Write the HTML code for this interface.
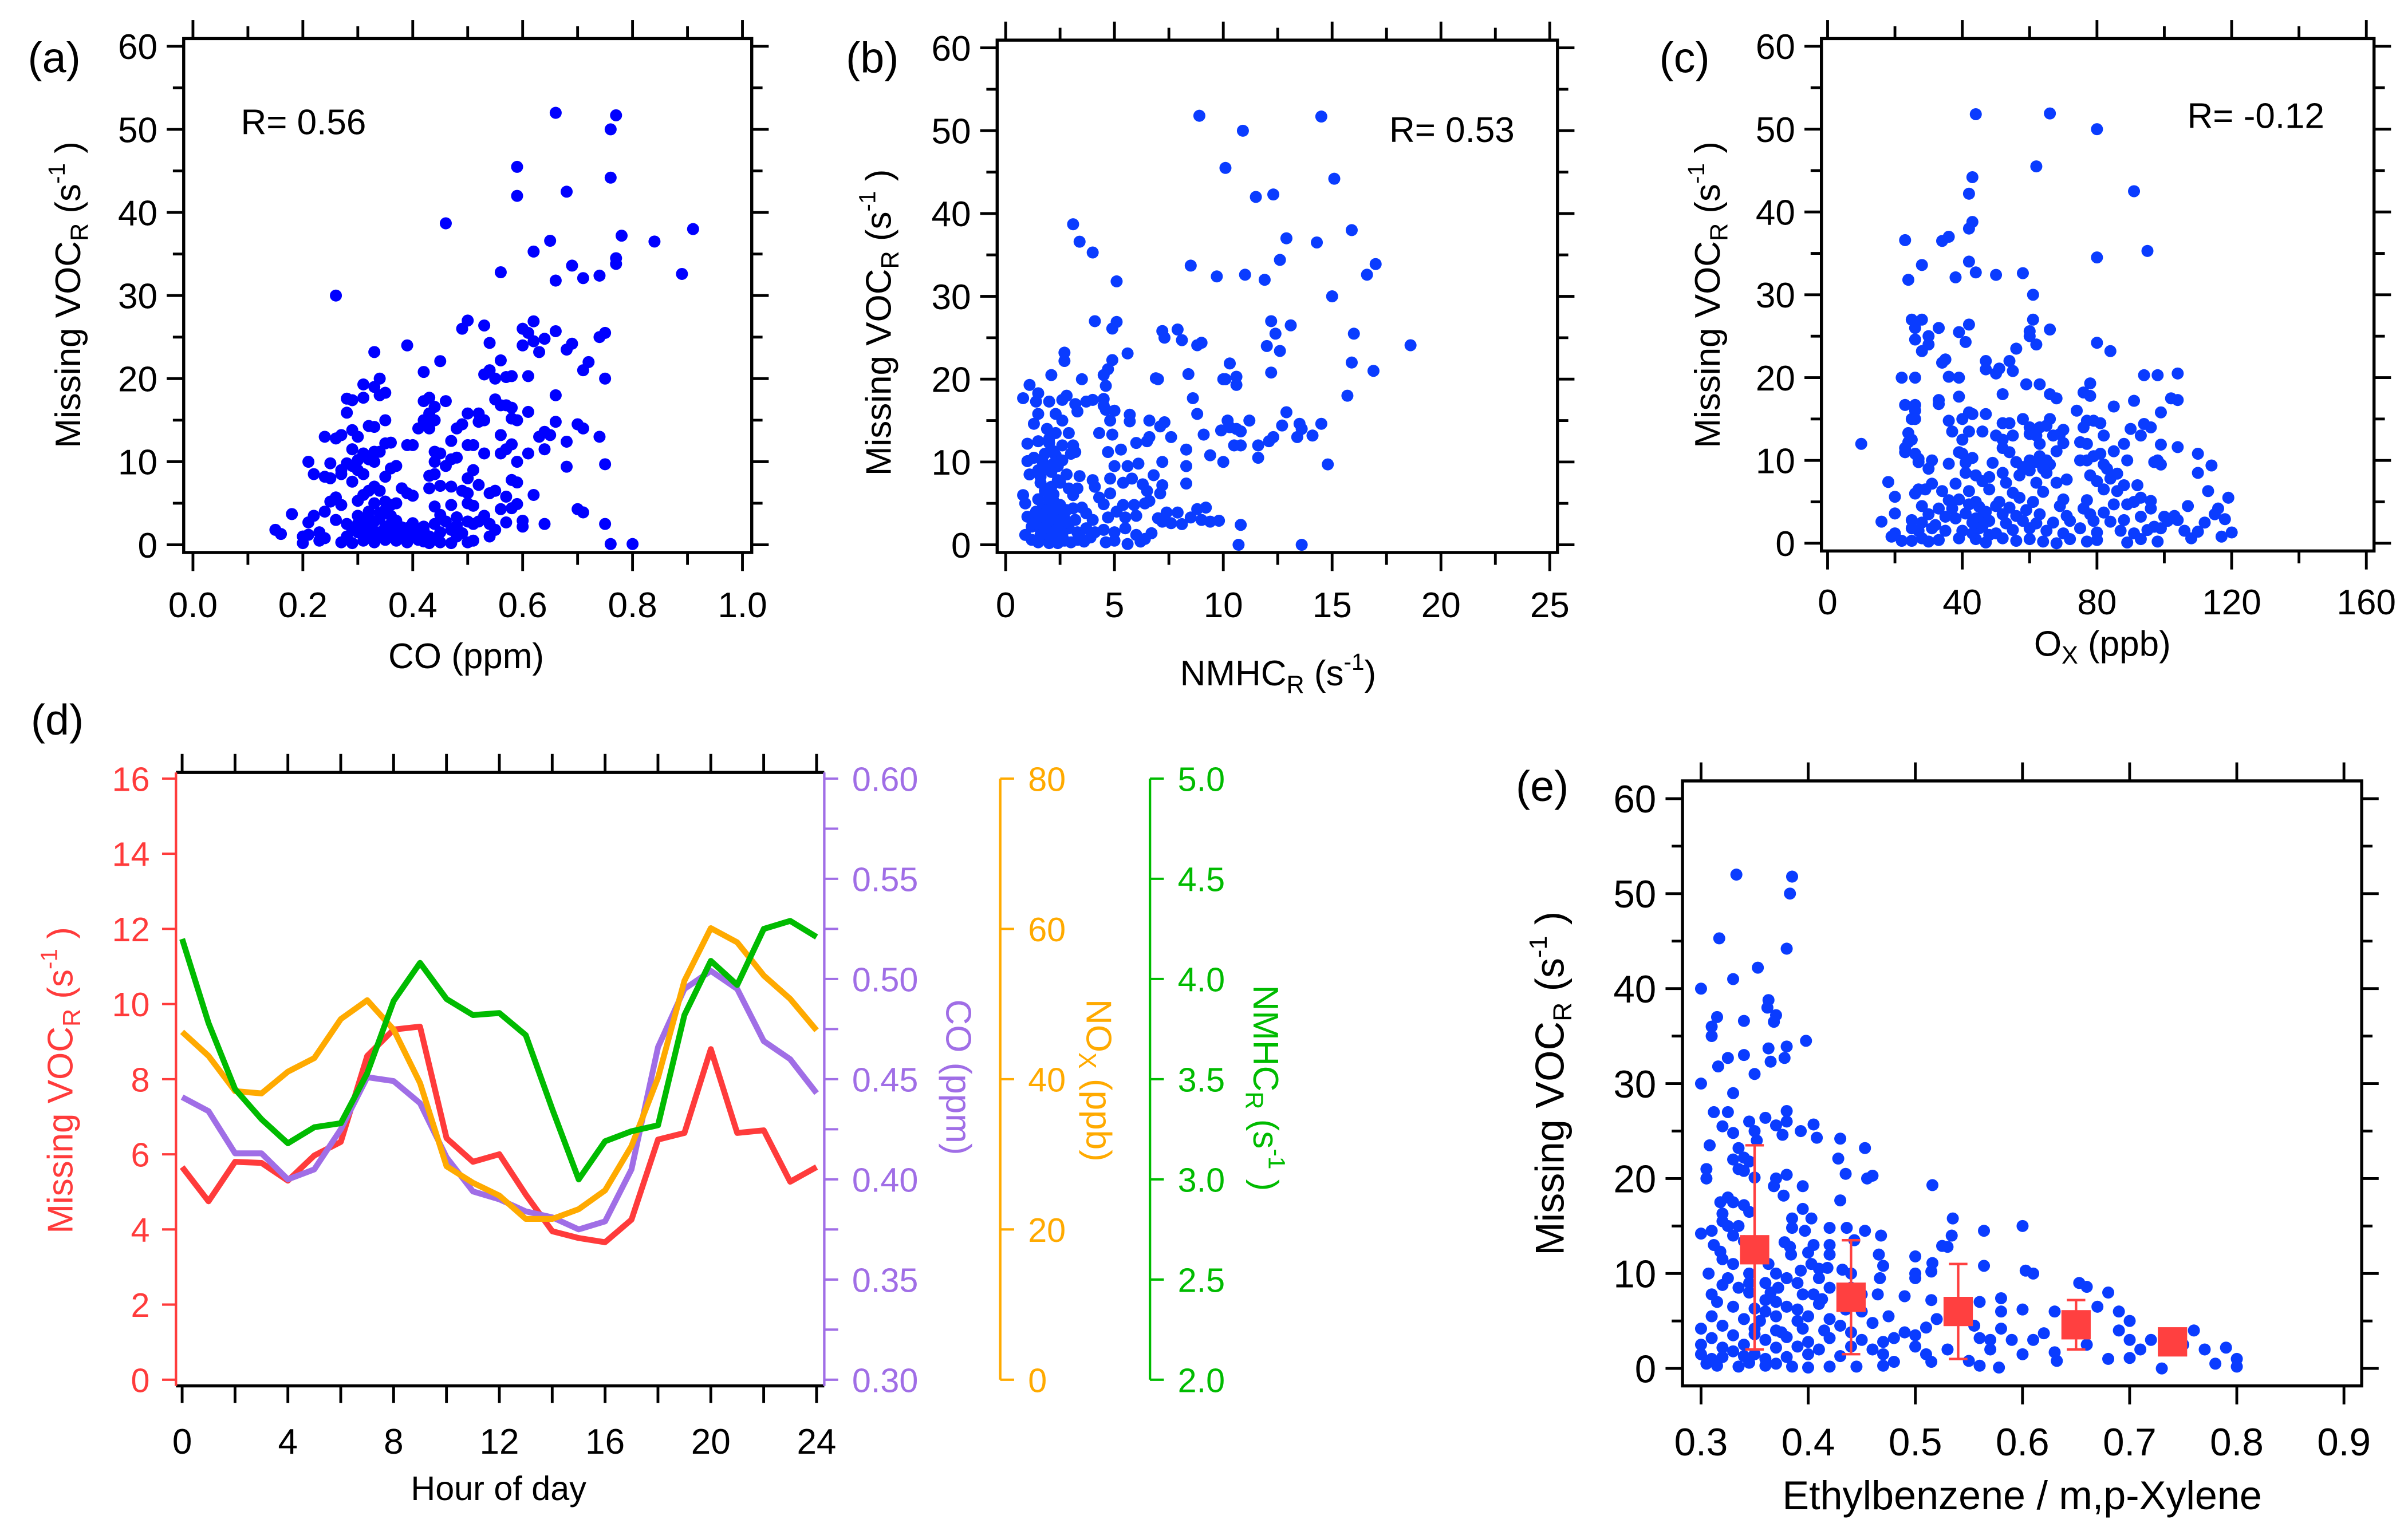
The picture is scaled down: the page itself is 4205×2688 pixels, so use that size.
<!DOCTYPE html>
<html><head><meta charset="utf-8"><title>Missing VOC reactivity figure</title>
<style>
html,body{margin:0;padding:0;background:#fff;}
svg{display:block;font-family:"Liberation Sans",Arial,sans-serif;}
</style></head>
<body>
<svg id="fig" width="4205" height="2688" viewBox="0 0 1560 997.2">
<rect x="0" y="0" width="1560" height="997.2" fill="#fff"/>
<text x="18" y="47" font-size="28">(a)</text>
<text x="548" y="47" font-size="28">(b)</text>
<text x="1075" y="47" font-size="28">(c)</text>
<text x="20" y="476" font-size="28">(d)</text>
<text x="982" y="519" font-size="28">(e)</text>
<text x="156" y="87" font-size="23">R= 0.56</text>
<text x="900" y="92" font-size="23">R= 0.53</text>
<text x="1417" y="83" font-size="23">R= -0.12</text>
<text x="302" y="433" font-size="23" text-anchor="middle">CO (ppm)</text>
<text x="828" y="444" font-size="23" text-anchor="middle">NMHC<tspan font-size="16" dy="5">R</tspan><tspan dy="-5" font-size="23"> (s</tspan><tspan font-size="15" dy="-10">-1</tspan><tspan font-size="23" dy="10">)</tspan></text>
<text x="1362" y="425" font-size="23" text-anchor="middle">O<tspan font-size="16" dy="5">X</tspan><tspan dy="-5" font-size="23">  (ppb)</tspan></text>
<text x="323" y="972" font-size="22" text-anchor="middle">Hour of day</text>
<text x="1310" y="978" font-size="26" text-anchor="middle">Ethylbenzene / m,p-Xylene</text>
<text transform="translate(52,191) rotate(-90)" font-size="23" text-anchor="middle">Missing VOC<tspan font-size="16" dy="5">R</tspan><tspan dy="-5" font-size="23">  (s</tspan><tspan font-size="15" dy="-10">-1</tspan><tspan font-size="23" dy="10"> )</tspan></text>
<text transform="translate(577,209) rotate(-90)" font-size="23" text-anchor="middle">Missing VOC<tspan font-size="16" dy="5">R</tspan><tspan dy="-5" font-size="23">  (s</tspan><tspan font-size="15" dy="-10">-1</tspan><tspan font-size="23" dy="10"> )</tspan></text>
<text transform="translate(1114,191) rotate(-90)" font-size="23" text-anchor="middle">Missing VOC<tspan font-size="16" dy="5">R</tspan><tspan dy="-5" font-size="23">  (s</tspan><tspan font-size="15" dy="-10">-1</tspan><tspan font-size="23" dy="10"> )</tspan></text>
<text transform="translate(1013,702) rotate(-90)" font-size="26" text-anchor="middle">Missing VOC<tspan font-size="17" dy="5">R</tspan><tspan dy="-5" font-size="26">  (s</tspan><tspan font-size="16" dy="-11">-1</tspan><tspan font-size="26" dy="11"> )</tspan></text>
<text transform="translate(47,700) rotate(-90)" font-size="23" fill="#ff3b3b" text-anchor="middle">Missing VOC<tspan font-size="16" dy="5">R</tspan><tspan dy="-5" font-size="23">  (s</tspan><tspan font-size="15" dy="-10">-1</tspan><tspan font-size="23" dy="10"> )</tspan></text>
<text transform="translate(613,698) rotate(90)" font-size="23" fill="#a06ee6" text-anchor="middle">CO  (ppm)</text>
<text transform="translate(704,700) rotate(90)" font-size="23" fill="#ffaa00" text-anchor="middle">NO<tspan font-size="16" dy="5">X</tspan><tspan dy="-5" font-size="23">  (ppb)</tspan></text>
<text transform="translate(812,705) rotate(90)" font-size="23" fill="#00bb00" text-anchor="middle">NMHC<tspan font-size="16" dy="5">R</tspan><tspan dy="-5" font-size="23">  (s</tspan><tspan font-size="15" dy="-10">-1</tspan><tspan font-size="23" dy="10"> )</tspan></text>
</svg>
<script>
const aPoints = [[0.66,52],[0.77,51.7],[0.76,50],[0.59,45.5],[0.76,44.2],[0.68,42.5],[0.59,42],[0.46,38.7],[0.91,38],[0.78,37.2],[0.84,36.5],[0.65,36.6],[0.62,35.3],[0.77,34.5],[0.77,33.8],[0.69,33.6],[0.56,32.8],[0.89,32.6],[0.74,32.4],[0.71,32.1],[0.66,31.8],[0.26,30],[0.62,26.9],[0.50,27],[0.53,26.4],[0.49,26],[0.60,26],[0.66,25.7],[0.75,25.5],[0.74,25],[0.61,25.5],[0.64,24.8],[0.62,24.5],[0.69,24.2],[0.54,24.3],[0.39,24],[0.33,23.2],[0.63,23.2],[0.68,23.5],[0.60,24],[0.45,22.1],[0.56,22.2],[0.72,22],[0.42,20.8],[0.54,21],[0.71,21],[0.53,20.5],[0.55,20],[0.57,20.2],[0.58,20.3],[0.61,20.3],[0.75,20],[0.34,20],[0.31,19.3],[0.33,19],[0.35,18.3],[0.34,18],[0.66,18],[0.28,17.6],[0.29,17.4],[0.31,17.7],[0.46,17.3],[0.43,17.7],[0.42,17.3],[0.55,17.5],[0.57,16.8],[0.56,16.8],[0.58,16.5],[0.44,16.6],[0.28,15.9],[0.43,15.8],[0.50,15.8],[0.52,15.8],[0.61,16],[0.66,14.8],[0.58,15.2],[0.59,15],[0.35,15],[0.44,15],[0.52,14.8],[0.53,15],[0.42,15],[0.32,14.3],[0.33,14.2],[0.41,14],[0.43,14],[0.49,14.5],[0.48,14],[0.70,14.5],[0.71,14],[0.64,13.6],[0.65,13.2],[0.63,13],[0.74,13],[0.29,13.8],[0.27,13.2],[0.24,13],[0.26,12.8],[0.30,13],[0.36,12.3],[0.35,12.2],[0.39,12],[0.40,12],[0.47,12.5],[0.50,12],[0.51,12],[0.56,13.2],[0.57,11.5],[0.58,12.1],[0.53,11],[0.56,11],[0.61,11],[0.64,11.5],[0.68,12.4],[0.29,11.5],[0.31,11],[0.33,11.2],[0.34,11.2],[0.45,11],[0.44,11.2],[0.30,10.2],[0.32,10.3],[0.28,9.8],[0.25,9.8],[0.21,10],[0.33,10],[0.44,10],[0.47,10.3],[0.48,10.5],[0.59,10],[0.27,9],[0.29,9.5],[0.30,9],[0.37,9.5],[0.36,9.2],[0.46,9.5],[0.51,9],[0.68,9.4],[0.75,9.7],[0.22,8.5],[0.24,8.2],[0.25,8],[0.27,8.5],[0.31,8.5],[0.29,7.6],[0.35,8.2],[0.43,8.3],[0.44,8.5],[0.50,8],[0.52,7.2],[0.58,7.8],[0.59,7.5],[0.33,7],[0.32,6.5],[0.34,6.5],[0.38,6.8],[0.39,6.2],[0.43,6.8],[0.45,7.1],[0.47,7],[0.49,6.5],[0.50,6.2],[0.54,6.2],[0.55,6.5],[0.57,5.8],[0.62,6],[0.40,5.9],[0.26,5.7],[0.25,5.2],[0.27,4.8],[0.30,5.3],[0.33,5],[0.35,5.2],[0.36,4.8],[0.37,5],[0.44,4.6],[0.47,4.8],[0.50,5],[0.51,4.7],[0.59,4.9],[0.70,4.3],[0.71,3.9],[0.18,3.7],[0.22,3.5],[0.24,4],[0.32,4],[0.34,3.8],[0.45,3.6],[0.48,3.3],[0.53,3.5],[0.56,4.3],[0.58,4.4],[0.15,1.8],[0.16,1.3],[0.21,2.7],[0.23,1.5],[0.26,3],[0.28,2.5],[0.30,2.5],[0.31,3],[0.32,2],[0.33,2.8],[0.34,1.5],[0.35,2.2],[0.36,2.5],[0.37,1.8],[0.38,1.2],[0.39,2],[0.40,2.6],[0.41,1.5],[0.42,2.2],[0.43,1],[0.44,2.5],[0.45,1.5],[0.46,2.8],[0.47,1.8],[0.48,2.3],[0.49,1.4],[0.50,2.8],[0.51,2.5],[0.52,2.8],[0.54,2.5],[0.55,1.8],[0.57,2.7],[0.60,2.2],[0.60,2.9],[0.64,2.5],[0.75,2.5],[0.20,0.2],[0.20,1],[0.21,1.2],[0.23,0.5],[0.24,0.8],[0.27,0.3],[0.28,1],[0.29,0.2],[0.30,1.5],[0.31,0.5],[0.32,1],[0.33,0.3],[0.34,0.9],[0.35,0.6],[0.36,1.2],[0.37,0.5],[0.38,0.8],[0.39,0.3],[0.40,1],[0.41,0.6],[0.42,0.4],[0.43,0.2],[0.44,0.8],[0.45,0.3],[0.47,0.2],[0.48,1],[0.50,0.3],[0.51,0.5],[0.54,1],[0.76,0.1],[0.80,0.1],[0.29,1.8],[0.31,1.8],[0.33,1.6],[0.35,1.4],[0.37,2.9],[0.38,2.1],[0.40,1.8],[0.42,1.7],[0.30,3.5],[0.32,3.2],[0.34,3.2],[0.36,3.5],[0.31,6],[0.35,4.2]];

const bPoints = [[8.9,51.8],[14.5,51.7],[10.9,50],[10.1,45.5],[15.1,44.2],[11.5,42],[12.3,42.3],[3.1,38.7],[3.4,36.6],[4,35.3],[15.9,38],[12.9,37],[14.3,36.5],[12.6,34.4],[8.5,33.7],[17,33.9],[16.6,32.6],[9.7,32.4],[11,32.6],[11.9,32],[5.1,31.8],[15,30],[4.1,27],[4.9,26.1],[5.1,26.9],[7.2,25.8],[7.3,25],[7.9,26],[8.1,24.7],[8.8,24.1],[9,24.4],[12.2,27],[12.4,25.5],[13.1,26.5],[12,24],[12.6,23.4],[16,25.5],[18.6,24.1],[2.7,23.2],[2.7,22.2],[4.9,22.3],[5.6,23.1],[10.3,21.9],[15.9,22],[16.9,21],[12.2,20.8],[2.1,20.5],[3.5,20],[4.5,20.5],[4.7,21.2],[6.9,20.1],[7,20],[8.4,20.6],[10,20],[10.1,20],[10.6,20.3],[10.6,19.3],[1.1,19.3],[4.6,19.2],[0.8,17.7],[1.5,18.3],[1.4,17.3],[2,17.3],[2.6,17.5],[2.8,18],[3.2,17],[3.7,17.3],[4,17.5],[4.5,17.6],[4.5,16.8],[4.6,16.3],[8.6,17.7],[15.7,18],[1.5,15.8],[2.3,15.8],[3.3,16.1],[5,16.2],[5.7,15.7],[8.8,15.8],[12.9,16],[1.3,14.6],[1.9,14],[2.6,15],[4.8,15],[5.7,14.9],[6.6,15],[7.3,14.8],[7.1,14.3],[10.2,15],[11.2,15],[12.7,14.4],[13.5,14.6],[14.5,14.6],[9.9,13.8],[10.3,14.2],[10.6,14],[10.8,13.7],[13.6,14],[2.3,13.5],[2.9,13.5],[4.3,13.5],[4.9,13.3],[7.6,13],[9.1,13.3],[13.4,13],[14.1,13.2],[12.3,13],[12.1,12.5],[1,12.2],[1.5,12.5],[2,12.3],[2.6,12],[3.1,12],[6,12.3],[6.5,12.5],[6.6,13],[10.5,12],[10.8,12],[11.6,12],[3.2,11.2],[4.7,11.2],[5.3,11.5],[8.3,11.5],[9.4,10.8],[11.6,10.5],[1,10.1],[1.3,10.5],[1.7,10],[2.3,10.8],[2.6,10.2],[3,11],[5,9.5],[5.6,9.5],[6.1,9.8],[7.2,10],[8.3,9.5],[10,10],[14.8,9.7],[1.1,8.5],[1.6,8.2],[2.1,8.8],[2.8,8.5],[3.4,8.3],[4,7.8],[4.8,8],[5.4,7.5],[5.8,8],[6.3,7.3],[6.8,8.4],[8.3,7.4],[1.6,7.5],[2.5,7.5],[3.3,6.8],[4.1,7],[6.5,6.5],[7.2,7.2],[7.1,6.2],[6.6,5.3],[0.8,6],[1.5,5.5],[2.2,6.1],[3.1,6],[4.3,5.7],[4.8,6.2],[0.9,5],[1.7,4.5],[2.5,4.8],[3.5,4.5],[4.5,4.9],[5.4,4.8],[5.9,4.8],[6.4,5],[3.7,3.8],[5.1,4],[6,3.5],[7.4,3.9],[7.9,3.9],[8.8,4.3],[9.2,4.5],[1,3.4],[1.4,3],[2,3.5],[2.7,3.2],[3.2,3],[4,3],[4.7,3.3],[5.5,3.3],[7.2,2.8],[7.6,2.6],[8.1,2.5],[8.5,3.3],[9,3],[9.4,2.8],[9.8,2.9],[7,3.2],[0.9,1.2],[1.2,2.2],[1.6,1.8],[1.9,2.5],[2.1,1.5],[2.4,2.2],[2.6,1.2],[2.9,2],[3.3,1.5],[3.7,2],[4.1,1.5],[4.5,1.8],[5,1.5],[5.5,2],[6,1.2],[6.7,1.4],[10.8,2.4],[1.2,0.6],[1.5,0.3],[1.8,0.8],[2,0.2],[2.2,0.6],[2.4,0.2],[2.7,0.5],[3,0.3],[3.3,0.6],[3.6,0.4],[4.6,0.3],[5,0.5],[5.6,0.1],[6.2,0.4],[6.4,0.7],[10.7,0],[13.6,0],[1.4,4],[1.8,6.5],[2.2,5.3],[2.5,3.8],[2.8,4.2],[1.3,2.6],[1.7,3.6],[2.3,2.8],[2.9,2.6],[3.1,4.4],[1.9,9.3],[2.4,9.5],[2.2,11.3],[1.8,11],[1.5,9],[2.1,7],[2.9,6.8],[3.4,1],[3.9,0.9],[2.6,3.6],[1.9,4.2],[1.6,1.2],[2.0,5.5],[2.3,4.3],[2.1,3.1],[1.8,2.1],[2.5,1.6],[2.2,9.8],[2.0,12.8],[2.4,7.8]];

const cPoints = [[44,51.8],[66,51.9],[80,50],[62,45.5],[43,44.2],[42,42.2],[91,42.5],[43,38.8],[42,38],[23,36.6],[34,36.5],[36,37],[95,35.3],[80,34.5],[28,33.6],[42,34],[44,32.7],[38,32.1],[50,32.4],[58,32.6],[24,31.8],[61,30],[25,27],[28,27],[26,26],[33,26],[42,26.4],[61,27],[60,25.6],[60,25],[66,25.8],[39,25.5],[41,24.3],[26,24.6],[30,25],[30,24],[28,23.2],[62,24],[80,24.2],[84,23.2],[56,23.5],[34,21.8],[35,22.2],[47,22],[47,21],[50,20.5],[51,21.1],[54,22],[55,20.8],[22,20],[26,20],[36,20.1],[39,20],[94,20.3],[98,20.3],[104,20.5],[59,19.2],[63,19.2],[78,19.3],[76,18.2],[78,17.8],[52,18],[66,18],[68,17.5],[39,17.7],[91,17.2],[102,17.5],[104,17.3],[33,17.3],[33,16.8],[23,16.7],[26,16.7],[26,16],[85,16.5],[99,15.8],[74,16],[42,15.8],[43,15.6],[47,15.6],[25,15],[26,15],[36,14.8],[40,15],[52,14.5],[54,14.5],[58,15],[66,15],[77,14.8],[79,14.8],[81,14.5],[94,14.4],[60,14],[63,14],[65,14.2],[76,14],[70,13.7],[93,13],[90,13.8],[96,14],[24,13.3],[37,13.5],[42,13.5],[46,13.5],[50,13],[55,13],[60,13.2],[62,13],[67,13],[69,13.2],[82,13],[24,12.2],[25,12.5],[40,12.5],[52,12.5],[63,12],[70,12.1],[77,12],[75,12.2],[88,12],[10,12],[23,11],[23,11.5],[52,11.5],[54,11],[68,11.1],[85,11.1],[99,11.9],[104,11.6],[110,10.8],[26,10.8],[27,10.2],[39,11],[40,10.8],[43,10.3],[60,10],[63,10.5],[65,10],[75,10],[77,10],[79,10.5],[81,10.8],[89,10],[98,10],[27,9.8],[31,10],[36,9.6],[41,9.7],[49,9.7],[56,9.8],[58,9.2],[62,9.8],[64,9],[66,9.5],[82,9.5],[83,9],[97,9.8],[99,9.5],[114,9.4],[30,9],[41,8.5],[44,8.2],[48,8],[52,8.5],[57,8.2],[60,8.8],[65,8.5],[78,8.2],[84,7.8],[86,8.4],[110,8.5],[18,7.4],[31,7.2],[38,7.2],[46,7.5],[53,7.3],[62,7.3],[68,7.3],[71,7.7],[80,7.5],[92,7],[26,6],[29,6.5],[34,6.3],[42,6.3],[48,6.5],[55,6.1],[64,6.2],[82,6.5],[86,6.3],[88,7],[113,6.3],[20,5.6],[27,6.5],[36,5.2],[39,5.3],[44,5],[51,5],[57,5.5],[61,5],[70,5.3],[77,5.2],[91,5],[93,5.5],[96,5.1],[119,5.5],[28,4.5],[33,4.2],[37,4.2],[45,4.4],[50,4.5],[54,4.3],[59,4],[69,4.5],[76,4.2],[85,4.7],[89,4.7],[96,4.2],[107,4.5],[116,4.2],[20,3.6],[30,3.5],[35,3.2],[41,3.6],[46,3.2],[52,3.5],[56,3.3],[63,3.5],[71,3.3],[78,3.5],[82,3.7],[93,3.2],[100,3.2],[103,3.3],[115,3.5],[16,2.6],[25,2.8],[28,2.5],[32,2.2],[38,3],[43,2.5],[48,2.7],[53,2.4],[58,2.7],[62,2.4],[67,2.5],[72,2.7],[79,2.7],[84,2.6],[88,2.8],[97,2],[101,2.7],[104,2.8],[112,2.5],[118,2.9],[20,1.2],[25,1.8],[27,1.5],[31,1.8],[35,1.5],[40,1.5],[45,1.8],[50,1.2],[55,1.6],[60,1.8],[65,1.5],[70,1.2],[75,1.8],[80,1.3],[87,1.5],[91,1.2],[95,1.6],[99,1.8],[106,1.5],[110,1.4],[120,1.3],[19,0.8],[22,0.3],[25,0.3],[28,0.6],[30,0.2],[33,0.4],[39,0.6],[44,0.5],[47,0.1],[52,0.6],[56,0.3],[60,0.5],[64,0.2],[68,0],[72,0.5],[77,0.2],[80,0.4],[89,0.1],[93,0.5],[98,0.2],[108,0.6],[117,0.8],[42,4.7],[44,3],[46,2],[48,1],[43,1.2],[47,3.8]];

const ePoints = [[0.333,52],[0.385,51.8],[0.383,50],[0.317,45.3],[0.38,44.2],[0.353,42.2],[0.3,40],[0.33,41],[0.363,38.8],[0.362,38],[0.37,37.2],[0.368,36.5],[0.315,37],[0.31,36],[0.31,35],[0.34,36.6],[0.398,34.5],[0.38,33.9],[0.363,33.7],[0.34,33],[0.325,32.7],[0.365,32.3],[0.378,32.7],[0.316,31.8],[0.35,31],[0.3,30],[0.33,29],[0.312,27],[0.325,27],[0.38,27.1],[0.36,26.4],[0.345,26],[0.38,26],[0.405,25.7],[0.37,25.6],[0.32,25.5],[0.33,24.8],[0.35,25],[0.376,24.6],[0.393,25],[0.408,24.3],[0.352,24],[0.43,24.2],[0.453,23.2],[0.308,23.5],[0.335,23.2],[0.34,22.2],[0.33,22],[0.345,21.8],[0.428,22.1],[0.305,21],[0.335,21],[0.34,20.8],[0.435,20.5],[0.455,20],[0.46,20.3],[0.305,20],[0.35,20.1],[0.37,20],[0.38,20.4],[0.368,19.2],[0.395,19.2],[0.516,19.3],[0.377,18.2],[0.325,18],[0.33,17.5],[0.318,17.5],[0.34,17.2],[0.345,16.5],[0.43,17.7],[0.32,16.3],[0.395,16.8],[0.385,15.8],[0.403,15.8],[0.32,15.5],[0.3,14.2],[0.31,14.5],[0.325,15],[0.335,15],[0.33,14],[0.385,14.8],[0.397,14.5],[0.42,14.8],[0.436,14.8],[0.453,14.5],[0.535,15.8],[0.564,14.5],[0.6,15],[0.312,13],[0.318,12.3],[0.34,13.4],[0.378,13.3],[0.383,12.8],[0.405,13],[0.42,13],[0.443,13.5],[0.468,14],[0.534,14],[0.53,12.8],[0.525,12.9],[0.384,12],[0.4,12.2],[0.42,12],[0.466,12],[0.5,11.8],[0.516,11.1],[0.32,11.5],[0.33,11],[0.363,11],[0.403,11],[0.41,10.5],[0.418,10.6],[0.432,10.4],[0.47,10.8],[0.564,10.8],[0.603,10.3],[0.61,10],[0.5,10],[0.515,10.2],[0.307,10],[0.325,9.5],[0.345,10],[0.37,10],[0.38,9.5],[0.393,10.3],[0.41,9.5],[0.44,10],[0.467,9.5],[0.5,9.5],[0.32,8.8],[0.335,8.5],[0.36,9],[0.372,8.5],[0.39,9],[0.42,8.5],[0.44,8.5],[0.31,7.8],[0.345,8],[0.365,8],[0.395,7.8],[0.405,7.8],[0.413,7.3],[0.45,7.8],[0.465,7.8],[0.49,7.6],[0.515,7.2],[0.56,7],[0.58,7.4],[0.68,8],[0.653,9],[0.66,8.6],[0.315,7],[0.33,6.5],[0.36,6],[0.38,6.5],[0.41,6.8],[0.435,6.2],[0.45,6],[0.475,5.5],[0.52,5.2],[0.58,6],[0.6,6.2],[0.63,6],[0.67,6.5],[0.69,6],[0.31,5.5],[0.34,5.2],[0.37,5.5],[0.39,5],[0.4,5.5],[0.42,5.2],[0.46,4.8],[0.555,4.5],[0.7,5],[0.3,4.2],[0.32,4.5],[0.35,4.2],[0.37,4],[0.395,4.2],[0.415,4],[0.43,4.5],[0.44,3.8],[0.49,3.8],[0.51,4.3],[0.58,4.2],[0.62,3.7],[0.69,4],[0.76,4],[0.31,3.2],[0.33,3.5],[0.36,3],[0.38,3.3],[0.4,2.8],[0.42,3.2],[0.45,3],[0.47,2.8],[0.48,3.2],[0.5,3.5],[0.56,3.2],[0.57,3],[0.59,3],[0.61,3],[0.7,3],[0.72,3],[0.3,2.5],[0.32,2.2],[0.34,2.5],[0.37,2.2],[0.39,2.3],[0.41,2],[0.44,2.3],[0.46,2],[0.5,2.3],[0.53,2],[0.57,2],[0.66,2.5],[0.71,2],[0.75,2.5],[0.77,2],[0.79,2.2],[0.3,1.5],[0.32,1.2],[0.33,1.8],[0.35,1.5],[0.38,1.2],[0.4,1.5],[0.43,1.3],[0.47,1.5],[0.51,1.5],[0.55,0.8],[0.6,1.5],[0.63,1.7],[0.68,1],[0.7,1.1],[0.8,1],[0.305,0.5],[0.315,0.3],[0.335,0.2],[0.345,0.6],[0.36,0.3],[0.37,0.5],[0.385,0.2],[0.4,0.1],[0.42,0.2],[0.445,0.2],[0.47,0.3],[0.48,0.7],[0.515,0.7],[0.56,0.3],[0.578,0.1],[0.632,0.8],[0.73,0],[0.78,0.5],[0.8,0.2],[0.36,1],[0.34,1.3],[0.31,1],[0.35,3.6],[0.355,5],[0.36,7.2],[0.35,6.3],[0.345,9],[0.37,7],[0.375,3.8],[0.39,6.2]];

const eBinX = [0.35, 0.44, 0.54, 0.65, 0.74];
const eBinMean = [12.5, 7.5, 6.0, 4.6, 2.8];
const eBinLow = [2.0, 1.5, 1.0, 2.0, 2.8];
const eBinHigh = [23.5, 13.5, 11.0, 7.2, 2.8];

const hours = [0,1,2,3,4,5,6,7,8,9,10,11,12,13,14,15,16,17,18,19,20,21,22,23,24];
const vocr = [5.66,4.75,5.8,5.77,5.3,5.97,6.33,8.62,9.32,9.4,6.43,5.8,6.0,4.93,3.95,3.77,3.66,4.26,6.39,6.57,8.8,6.57,6.64,5.27,5.66];
const coPpm = [0.441,0.434,0.413,0.413,0.400,0.405,0.425,0.451,0.449,0.438,0.411,0.394,0.390,0.384,0.381,0.375,0.379,0.405,0.466,0.495,0.504,0.495,0.469,0.460,0.443];
const noxPpb = [46.3,43.1,38.4,38.1,41.0,42.8,48.0,50.5,46.6,39.5,28.4,26.2,24.5,21.4,21.4,22.7,25.2,31.1,40.2,53.1,60.1,58.2,53.8,50.7,46.5];
const nmhcR = [4.20,3.78,3.45,3.30,3.18,3.26,3.28,3.53,3.89,4.08,3.90,3.82,3.83,3.72,3.35,3.0,3.19,3.24,3.27,3.82,4.09,3.97,4.25,4.29,4.21];

const aXTicks = ["0.0","0.2","0.4","0.6","0.8","1.0"];
const bXTicks = ["0","5","10","15","20","25"];
const cXTicks = ["0","40","80","120","160"];
const eXTicks = ["0.3","0.4","0.5","0.6","0.7","0.8","0.9"];
const vocYTicks = ["0","10","20","30","40","50","60"];
const dHourTicks = ["0","4","8","12","16","20","24"];
const dVocTicks = ["0","2","4","6","8","10","12","14","16"];
const dCoTicks = ["0.30","0.35","0.40","0.45","0.50","0.55","0.60"];
const dNoxTicks = ["0","20","40","60","80"];
const dNmhcTicks = ["2.0","2.5","3.0","3.5","4.0","4.5","5.0"];

const svg = document.getElementById('fig');
const NS = svg.namespaceURI;
function mk(tag, attrs, parent){
  const e = document.createElementNS(NS, tag);
  for (const k in attrs) e.setAttribute(k, attrs[k]);
  (parent || svg).appendChild(e);
  return e;
}
function scale(v0, v1, p0, p1){ return v => p0 + (v - v0) * (p1 - p0) / (v1 - v0); }

function tick(g, x1, y1, x2, y2, color, w){
  const t = mk('line', {x1:x1, y1:y1, x2:x2, y2:y2, stroke:color, 'stroke-width':w||1.8}, g);
  
  
}
function label(g, x, y, txt, anchor, color, size){
  const t = mk('text', {x:x, y:y, 'text-anchor':anchor, fill:color||'#000', 'font-size':size||23}, g);
  t.textContent = txt;
  
  
}

function scatterPanel(name, box, sx, sy, xTickLabels, xMajorStep, xMinorStep, xmin, points, color, fs){
  const g = mk('g', {});
  
  
  const nMinor = Math.round((parseFloat(xTickLabels[xTickLabels.length-1]) - xmin) / xMinorStep);
  for (let i = 0; i <= nMinor; i++){
    const v = xmin + i * xMinorStep;
    const isMajor = Math.abs(((v - xmin) / xMajorStep) - Math.round((v - xmin) / xMajorStep)) < 1e-6;
    const len = isMajor ? 12 : 8;
    const x = sx(v);
    tick(g, x, box.bottom, x, box.bottom + len, '#000');
    tick(g, x, box.top, x, box.top - len, '#000');
  }
  xTickLabels.forEach((s, i) => label(g, sx(xmin + i * xMajorStep), box.xLabelY, s, 'middle', '#000', fs));
  for (let v = 0; v <= 60; v += 5){
    const len = (v % 10 === 0) ? 11 : 7;
    const y = sy(v);
    tick(g, box.left, y, box.left - len, y, '#000');
    tick(g, box.right, y, box.right + len, y, '#000');
  }
  vocYTicks.forEach((s, i) => label(g, box.left - 17, sy(i * 10) + fs*0.36, s, 'end', '#000', fs));
  points.forEach(p => {
    const c = mk('circle', {cx:sx(p[0]).toFixed(1), cy:sy(p[1]).toFixed(1), r:3.9, fill:color}, g);
    
    
  });
  const r = mk('rect', {x:box.left, y:box.top, width:box.right-box.left, height:box.bottom-box.top, fill:'none', stroke:'#000', 'stroke-width':2}, g);
  
  
  return g;
}

const aBox = {left:119, right:487, top:25, bottom:358, xLabelY:400};
scatterPanel('scatter-panel-a', aBox, scale(0,1,125,481), scale(0,60,353,30), aXTicks, 0.2, 0.1, 0, aPoints, '#0000ff', 23);
const bBox = {left:646, right:1009, top:26, bottom:358, xLabelY:400};
scatterPanel('scatter-panel-b', bBox, scale(0,25,651.5,1004), scale(0,60,353,31), bXTicks, 5, 2.5, 0, bPoints, '#0a3cff', 23);
const cBox = {left:1180, right:1538, top:25, bottom:357, xLabelY:398};
scatterPanel('scatter-panel-c', cBox, scale(0,160,1184,1533), scale(0,60,352,30), cXTicks, 40, 20, 0, cPoints, '#0a3cff', 23);
const eBox = {left:1090, right:1530, top:506, bottom:898, xLabelY:943};
const esx = scale(0.3,0.9,1102,1518.5), esy = scale(0,60,886.7,517.5);
const eg = scatterPanel('scatter-panel-e', eBox, esx, esy, eXTicks, 0.1, 0.1, 0.3, ePoints, '#0a3cff', 25);
eBinX.forEach((x, i) => {
  const px = esx(x);
  if (eBinHigh[i] > eBinLow[i]){
    const el = mk('line', {x1:px, y1:esy(eBinLow[i]), x2:px, y2:esy(eBinHigh[i]), stroke:'#ff4040', 'stroke-width':1.6}, eg);
    
    
    [eBinLow[i], eBinHigh[i]].forEach(v => {
      const cap = mk('line', {x1:px-6, y1:esy(v), x2:px+6, y2:esy(v), stroke:'#ff4040', 'stroke-width':1.6}, eg);
      
      
    });
  }
  const sq = mk('rect', {x:px-9.5, y:esy(eBinMean[i])-9.5, width:19, height:19, fill:'#ff4040'}, eg);
  
  
});

const dg = mk('g', {});


const dTop = 500.5, dBottom = 898, dLeft = 114, dRight = 534;
const hx = scale(0,24,118,529);
const yVoc = scale(0,16,894,504.5), yCo = scale(0.30,0.60,894,504.5), yNox = scale(0,80,894,504.5), yNmhc = scale(2,5,894,504.5);
const RED='#ff3b3b', PUR='#a06ee6', ORA='#ffaa00', GRN='#00bb00';
let ln = mk('line', {x1:dLeft, y1:dTop, x2:dRight, y2:dTop, stroke:'#000', 'stroke-width':2}, dg);


ln = mk('line', {x1:dLeft, y1:dBottom, x2:dRight, y2:dBottom, stroke:'#000', 'stroke-width':2}, dg);


for (let h = 0; h <= 24; h += 2){
  tick(dg, hx(h), dTop, hx(h), dTop - 12, '#000');
  tick(dg, hx(h), dBottom, hx(h), dBottom + 11, '#000');
}
dHourTicks.forEach((s, i) => label(dg, hx(i*4), 942, s, 'middle', '#000', 23));
ln = mk('line', {x1:dLeft, y1:dTop, x2:dLeft, y2:dBottom, stroke:RED, 'stroke-width':1.6}, dg);


dVocTicks.forEach((s, i) => { tick(dg, dLeft, yVoc(i*2), dLeft-9, yVoc(i*2), RED, 1.5); label(dg, dLeft-17, yVoc(i*2)+8, s, 'end', RED, 22); });
ln = mk('line', {x1:dRight, y1:dTop, x2:dRight, y2:dBottom, stroke:PUR, 'stroke-width':1.6}, dg);


for (let i = 0; i <= 12; i++){ const v = 0.30 + i*0.025; tick(dg, dRight, yCo(v), dRight+9, yCo(v), PUR, 1.5); }
dCoTicks.forEach((s, i) => label(dg, 552, yCo(0.30 + i*0.05)+8, s, 'start', PUR, 22));
ln = mk('line', {x1:648, y1:504.5, x2:648, y2:894, stroke:ORA, 'stroke-width':1.6}, dg);


dNoxTicks.forEach((s, i) => { tick(dg, 648, yNox(i*20), 657, yNox(i*20), ORA, 1.5); label(dg, 666, yNox(i*20)+8, s, 'start', ORA, 22); });
ln = mk('line', {x1:745, y1:504.5, x2:745, y2:894, stroke:GRN, 'stroke-width':1.6}, dg);


dNmhcTicks.forEach((s, i) => { tick(dg, 745, yNmhc(2 + i*0.5), 754, yNmhc(2 + i*0.5), GRN, 1.5); label(dg, 763, yNmhc(2 + i*0.5)+8, s, 'start', GRN, 22); });
function series(vals, ys, color, nm){
  const d = vals.map((v, i) => (i ? 'L' : 'M') + hx(hours[i]).toFixed(1) + ',' + ys(v).toFixed(1)).join(' ');
  const p = mk('path', {d:d, fill:'none', stroke:color, 'stroke-width':3.8, 'stroke-linejoin':'round'}, dg);
  
  
}
series(vocr, yVoc, RED, 'line-missing-vocr');
series(coPpm, yCo, PUR, 'line-co');
series(noxPpb, yNox, ORA, 'line-nox');
series(nmhcR, yNmhc, GRN, 'line-nmhcr');
</script>
</body></html>
